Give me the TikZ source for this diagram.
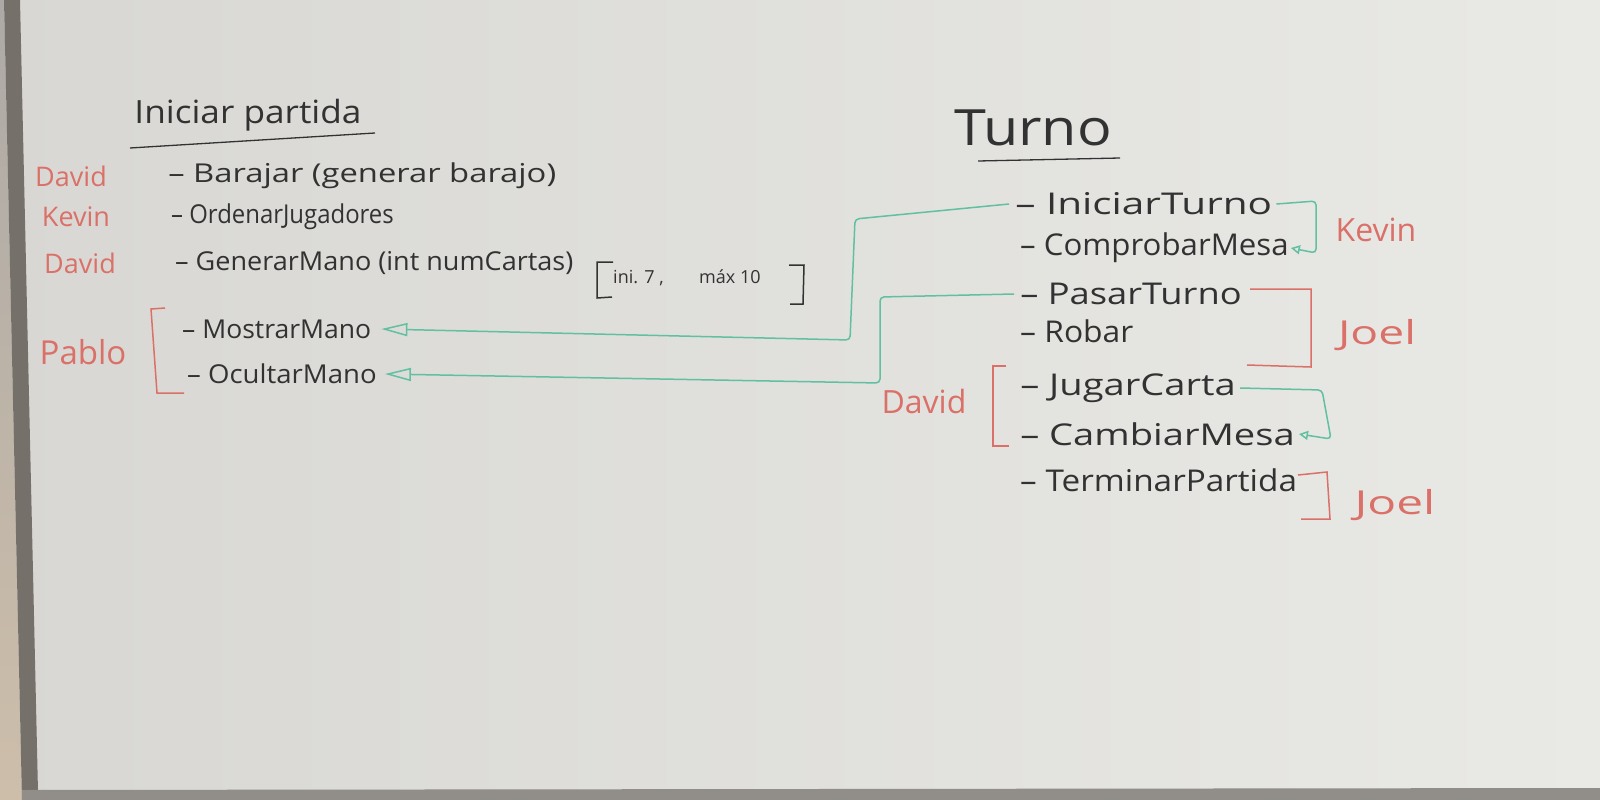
\documentclass[tikz,border=0pt]{standalone}
\usepackage{fontspec}
\setmainfont{Open Sans}
\usetikzlibrary{arrows.meta}
\definecolor{boardA}{RGB}{216,215,211}
\definecolor{boardB}{RGB}{233,233,230}
\definecolor{frame}{RGB}{118,112,106}
\definecolor{wall}{RGB}{205,190,170}
\definecolor{ink}{RGB}{50,50,50}
\definecolor{redm}{RGB}{218,112,104}
\definecolor{tealm}{RGB}{98,192,162}
\begin{document}
\begin{tikzpicture}[x=1pt,y=-1pt,
  sx/.style={xscale=#1, transform shape},
  item/.style={anchor=west, text=ink, inner sep=0pt, font=\fontsize{26}{30}\selectfont},
  itemR/.style={anchor=west, text=ink, inner sep=0pt, font=\fontsize{30}{34}\selectfont},
  title/.style={text=ink, inner sep=0pt, font=\fontsize{32}{36}\selectfont},
  who/.style={text=redm, inner sep=0pt, font=\fontsize{27}{31}\selectfont},
  whoB/.style={text=redm, inner sep=0pt, font=\fontsize{33}{37}\selectfont},
  small/.style={anchor=west, text=ink, inner sep=0pt, font=\fontsize{18}{21}\selectfont},
  uline/.style={draw=ink, line width=1.3pt},
  brk/.style={draw=redm, line width=1.5pt},
  inkbrk/.style={draw=ink, line width=1.5pt},
  link/.style={draw=tealm, line width=1.5pt, rounded corners=4pt},
  openhead/.style={-{Triangle[open,length=26pt,width=13pt,line width=1.5pt]}},
  hook/.style={-{Triangle[open,length=9pt,width=9pt,line width=1.5pt]}}
]
\useasboundingbox (0,0) rectangle (1600,800);
\shade[left color=boardA, right color=boardB] (0,0) rectangle (1600,800);
\shade[top color=frame!60!white, bottom color=wall] (0,0) -- (4,0) -- (22,800) -- (0,800) -- cycle;
\fill[frame] (4,0) -- (20,0) -- (38,792) -- (22,800) -- cycle;
\fill[frame!80!white] (22,790) -- (1600,788) -- (1600,800) -- (22,800) -- cycle;

% ---- Iniciar partida ----
\node[title, sx=1.1] (t1) at (248,115) {Iniciar partida};
\draw[uline] (130,148) -- (375,133);

\node[who] (d1) at (71,176) {David};
\node[item, sx=1.26] (bar) at (168,176) {– Barajar (generar barajo)};
\node[who] (k1) at (76,217) {Kevin};
\node[item, sx=0.92] (ord) at (171,217) {– OrdenarJugadores};
\node[who] (d2) at (80,263) {David};
\node[item, sx=1.04] (gen) at (175,263) {– GenerarMano (int numCartas)};

\node[small] (r1) at (613,278) {ini. 7 ,};
\node[small] (r2) at (699,277) {máx 10};
\draw[inkbrk] (613,262) -- (597,262) -- (597,298) -- (612,297);
\draw[inkbrk] (789,265) -- (804,265) -- (803,304) -- (790,304);

\node[whoB] (p1) at (83,352) {Pablo};
\draw[brk] (165,308) -- (151,309) -- (157,393) -- (184,393);
\node[item, sx=1.02] (mos) at (182,329) {– MostrarMano};
\node[item, sx=1.06] (ocu) at (187,374) {– OcultarMano};

% ---- Turno ----
\node[text=ink, inner sep=0pt, font=\fontsize{50}{56}\selectfont, sx=1.15] (turno) at (1033,128) {Turno};
\draw[uline] (978,161) -- (1120,158);

\node[itemR, sx=1.35] (it) at (1015,204) {– IniciarTurno};
\node[itemR, sx=1.04] (cm) at (1020,248) {– ComprobarMesa};
\node[who, font=\fontsize{32}{36}\selectfont] (k2) at (1376,230) {Kevin};

\node[itemR, sx=1.21] (pt) at (1020,294) {– PasarTurno};
\node[itemR, sx=1.06] (rb) at (1020,331) {– Robar};
\draw[brk] (1250,289) -- (1311,289) -- (1311,367) -- (1247,365);
\node[whoB, sx=1.4] (j1) at (1377,335) {Joel};

\node[who, font=\fontsize{32}{36}\selectfont] (d3) at (924,401) {David};
\draw[brk] (1006,366) -- (993,366) -- (993,446) -- (1009,446);
\node[itemR, sx=1.27] (jc) at (1020,388) {– JugarCarta};
\node[itemR, sx=1.27] (cmb) at (1020,434) {– CambiarMesa};

\node[itemR, sx=1.11] (tp) at (1020,480) {– TerminarPartida};
\draw[brk] (1298,475) -- (1327,472) -- (1330,519) -- (1301,519);
\node[whoB, sx=1.45] (j2) at (1395,505) {Joel};

% ---- connectors ----
\draw[link, openhead] ([xshift=-6pt]it.west) -- (855,219) -- (850,340) -- ([xshift=10pt]mos.east);
\draw[link, openhead] ([xshift=-6pt]pt.west) -- (880,297) -- (880,383) -- ([xshift=8pt]ocu.east);
\draw[link, hook] ([xshift=4pt]it.east) -- (1316,201) -- (1316,253) -- ([xshift=2pt]cm.east);
\draw[link, hook] ([xshift=4pt]jc.east) -- (1322,390) -- (1331,439) -- ([xshift=4pt]cmb.east);
\end{tikzpicture}
\end{document}
